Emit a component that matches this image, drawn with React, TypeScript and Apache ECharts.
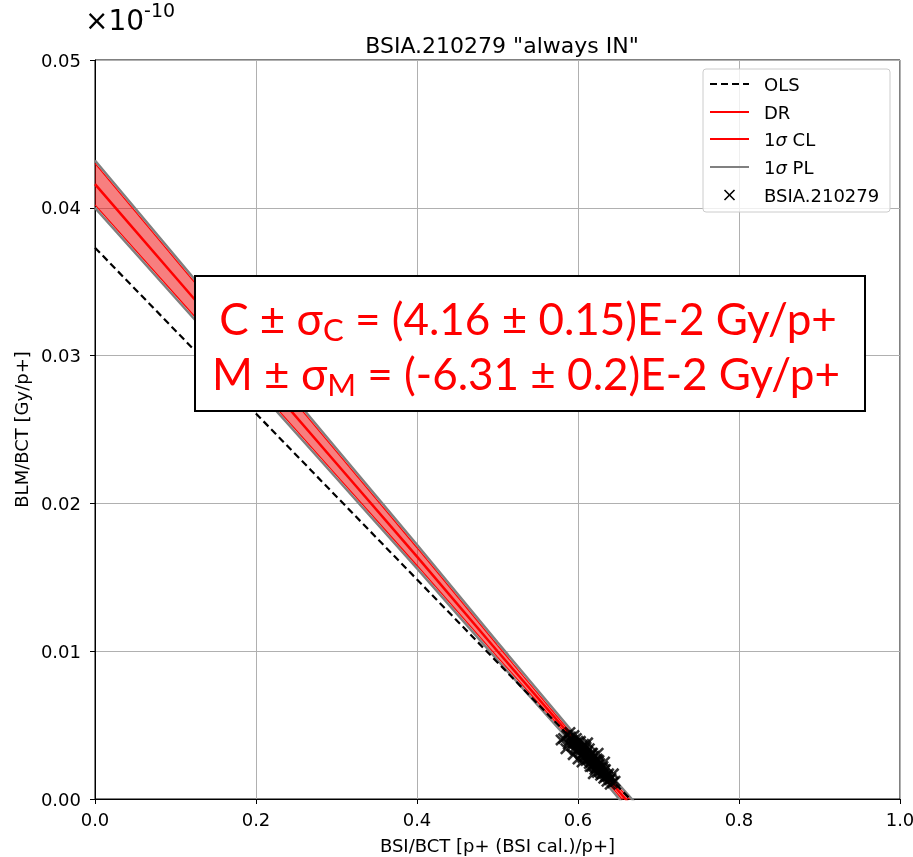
import React, { useEffect, useRef } from "react";
import * as echarts from "echarts";

const titleText = 'BSIA.210279 "always IN"';

// fit lines / bands sampled along x
const bandX = [0, 0.1, 0.2, 0.3, 0.4, 0.5, 0.6, 0.67];
const drY = [0.0416, 0.0353, 0.029, 0.0227, 0.0164, 0.01, 0.0037, -0.0007];
const clUpper = [0.043, 0.0365, 0.03, 0.0235, 0.017, 0.0104, 0.0039, -0.0004];
const clLower = [0.0402, 0.0341, 0.028, 0.0219, 0.0158, 0.0096, 0.0035, -0.001];
const plUpper = [0.0432, 0.0367, 0.0302, 0.0237, 0.0172, 0.0106, 0.0041, -0.0002];
const plLower = [0.04, 0.0339, 0.0278, 0.0217, 0.0156, 0.0094, 0.0033, -0.0012];
const olsX = [0, 0.67];
const olsY = [0.0373, -0.0003];

const measX = [
  0.582, 0.586, 0.589, 0.591, 0.593, 0.595, 0.588, 0.592, 0.596, 0.598, 0.6, 0.597, 0.601, 0.603, 0.599,
  0.602, 0.605, 0.607, 0.604, 0.606, 0.608, 0.61, 0.609, 0.611, 0.612, 0.614, 0.61, 0.613, 0.615, 0.617,
  0.614, 0.616, 0.618, 0.62, 0.617, 0.62, 0.622, 0.624, 0.621, 0.623, 0.625, 0.627, 0.624, 0.627, 0.629,
  0.631, 0.628, 0.63, 0.632, 0.634, 0.632, 0.634, 0.636, 0.638, 0.636, 0.639, 0.641, 0.64, 0.643,
  0.585, 0.594, 0.6, 0.612, 0.625, 0.633, 0.644, 0.646, 0.605, 0.619, 0.59, 0.579,
  0.603, 0.608, 0.612, 0.616, 0.619, 0.622, 0.626, 0.63, 0.633, 0.637, 0.594, 0.598,
  0.597, 0.606, 0.615, 0.621, 0.628, 0.609, 0.618, 0.626,
];
const measY = [
  0.0041, 0.0043, 0.0039, 0.0042, 0.004, 0.0043, 0.0037, 0.0036, 0.0038, 0.0041, 0.0039, 0.0035, 0.0036,
  0.0039, 0.0033, 0.0032, 0.0035, 0.0037, 0.003, 0.0031, 0.0033, 0.0035, 0.0029, 0.003, 0.0032, 0.0034,
  0.0026, 0.0027, 0.0029, 0.0031, 0.0024, 0.0025, 0.0027, 0.0029, 0.0022, 0.0023, 0.0025, 0.0027, 0.002,
  0.0021, 0.0023, 0.0024, 0.0018, 0.0019, 0.002, 0.0022, 0.0016, 0.0017, 0.0018, 0.002, 0.0014, 0.0015,
  0.0016, 0.0017, 0.0012, 0.0013, 0.0014, 0.001, 0.0011,
  0.0034, 0.003, 0.0027, 0.0038, 0.0031, 0.0025, 0.0017, 0.0012, 0.0025, 0.0017, 0.0045, 0.004,
  0.0034, 0.0031, 0.0028, 0.0027, 0.0024, 0.0022, 0.0021, 0.0019, 0.0017, 0.0015, 0.0038, 0.0037,
  0.0033, 0.0028, 0.0022, 0.0026, 0.0021, 0.0036, 0.0031, 0.0026,
];

const legendLabels = ["OLS", "DR", "1{i|σ} CL", "1{i|σ} PL", "BSIA.210279"];

const crossPath = "path://M0,1.5L1.5,0L5,3.5L8.5,0L10,1.5L6.5,5L10,8.5L8.5,10L5,6.5L1.5,10L0,8.5L3.5,5Z";

export default function App() {
  const ref = useRef<HTMLDivElement>(null);
  useEffect(() => {
    if (!ref.current) return;
    const chart = echarts.init(ref.current, null, { renderer: "svg" });
    const zip = (xs: number[], ys: number[]) => xs.map((x, i) => [x, ys[i]]);
    const legendY = [84, 112, 139, 167, 195];
    const lx0 = 710, lx1 = 749, tx = 764;
    const legendItems: any[] = [
      { type: "rect", shape: { x: 703, y: 69, width: 187, height: 143, r: 3 }, style: { fill: "rgba(255,255,255,0.8)", stroke: "#cccccc", lineWidth: 1 }, z: 100 },
      { type: "line", shape: { x1: lx0, y1: legendY[0], x2: lx1, y2: legendY[0] }, style: { stroke: "#000", lineWidth: 2.2, lineDash: [7, 4] }, z: 101 },
      { type: "line", shape: { x1: lx0, y1: legendY[1], x2: lx1, y2: legendY[1] }, style: { stroke: "#ff0000", lineWidth: 2.2 }, z: 101 },
      { type: "line", shape: { x1: lx0, y1: legendY[2], x2: lx1, y2: legendY[2] }, style: { stroke: "#ff0000", lineWidth: 2.2 }, z: 101 },
      { type: "line", shape: { x1: lx0, y1: legendY[3], x2: lx1, y2: legendY[3] }, style: { stroke: "#808080", lineWidth: 2.2 }, z: 101 },
      { type: "line", shape: { x1: 724.5, y1: legendY[4] - 5, x2: 734.5, y2: legendY[4] + 5 }, style: { stroke: "#000", lineWidth: 1.6 }, z: 101 },
      { type: "line", shape: { x1: 734.5, y1: legendY[4] - 5, x2: 724.5, y2: legendY[4] + 5 }, style: { stroke: "#000", lineWidth: 1.6 }, z: 101 },
    ];
    legendLabels.forEach((t, i) => {
      legendItems.push({
        type: "text",
        x: tx,
        y: legendY[i],
        z: 101,
        style: {
          text: t,
          fill: "#000",
          fontSize: 18,
          fontFamily: "DejaVu Sans",
          verticalAlign: "middle",
          rich: { i: { fontStyle: "italic", fontSize: 18, fontFamily: "DejaVu Sans", fill: "#000" } },
        },
      });
    });

    const mainRich = {
      m: { fontSize: 44, fontFamily: "Lato", fill: "#ff0000", lineHeight: 52 },
      s: { fontSize: 31, fontFamily: "Lato", fill: "#ff0000", lineHeight: 30, verticalAlign: "bottom" },
    };

    const bandRender = (params: any, api: any) => {
      if (params.dataIndex !== 0) return null;
      const pts: number[][] = [];
      for (let i = 0; i < bandX.length; i++) pts.push(api.coord([bandX[i], clUpper[i]]));
      for (let i = bandX.length - 1; i >= 0; i--) pts.push(api.coord([bandX[i], clLower[i]]));
      return { type: "polygon", shape: { points: pts }, style: { fill: "rgba(240,0,0,0.5)" } };
    };

    const tickFont = { fontFamily: "DejaVu Sans", fontSize: 18, color: "#000" };

    chart.setOption({
      animation: false,
      title: {
        text: titleText,
        left: 497,
        textAlign: "center",
        top: 29,
        textStyle: { fontFamily: "DejaVu Sans", fontSize: 22, fontWeight: "normal", color: "#000" },
      },
      grid: {
        left: 95,
        top: 60,
        width: 805,
        height: 739,
        show: true,
        borderColor: "#000",
        borderWidth: 1,
        backgroundColor: "transparent",
        containLabel: false,
        outerBoundsMode: "none",
      },
      xAxis: {
        type: "value",
        min: 0,
        max: 1,
        interval: 0.2,
        name: "BSI/BCT [p+ (BSI cal.)/p+]",
        nameLocation: "middle",
        nameGap: 37,
        nameTextStyle: { ...tickFont },
        axisLine: { show: true, onZero: false, lineStyle: { color: "#000", width: 1 } },
        axisTick: { show: true, length: 5, lineStyle: { color: "#000" } },
        axisLabel: { formatter: (v: number) => v.toFixed(1), ...tickFont, margin: 11 },
        splitLine: { show: true, lineStyle: { color: "#b0b0b0", width: 1 } },
      },
      yAxis: {
        type: "value",
        min: 0,
        max: 0.05,
        interval: 0.01,
        name: "BLM/BCT [Gy/p+]",
        nameLocation: "middle",
        nameGap: 65,
        nameTextStyle: { ...tickFont },
        axisLine: { show: true, onZero: false, lineStyle: { color: "#000", width: 1 } },
        axisTick: { show: true, length: 5, lineStyle: { color: "#000" } },
        axisLabel: { formatter: (v: number) => v.toFixed(2), ...tickFont, margin: 14 },
        splitLine: { show: true, lineStyle: { color: "#b0b0b0", width: 1 } },
      },
      series: [
        {
          name: "CL band",
          type: "custom",
          renderItem: bandRender,
          data: zip(bandX, clUpper),
          clip: true,
          z: 2,
        },
        { name: "PL upper", type: "line", data: zip(bandX, plUpper), symbol: "none", lineStyle: { color: "#808080", width: 2.5 }, z: 3 },
        { name: "PL lower", type: "line", data: zip(bandX, plLower), symbol: "none", lineStyle: { color: "#808080", width: 2.5 }, z: 3 },
        { name: "CL upper", type: "line", data: zip(bandX, clUpper), symbol: "none", lineStyle: { color: "#ff0000", width: 1.2 }, z: 4 },
        { name: "CL lower", type: "line", data: zip(bandX, clLower), symbol: "none", lineStyle: { color: "#ff0000", width: 1.2 }, z: 4 },
        { name: "DR", type: "line", data: zip(bandX, drY), symbol: "none", lineStyle: { color: "#ff0000", width: 2.5 }, z: 5 },
        { name: "OLS", type: "line", data: zip(olsX, olsY), symbol: "none", lineStyle: { color: "#000", width: 2.2, type: [7, 4] }, z: 5 },
        {
          name: "BSIA.210279",
          type: "scatter",
          data: zip(measX, measY),
          symbol: crossPath,
          symbolSize: 12,
          itemStyle: { color: "#000" },
          z: 6,
        },
      ],
      graphic: [
        {
          type: "text",
          x: 85,
          y: 40,
          z: 100,
          style: {
            text: "×10{sup|-10}",
            fill: "#000",
            fontSize: 28,
            fontFamily: "DejaVu Sans",
            verticalAlign: "bottom",
            rich: {
              sup: { fontSize: 19, fontFamily: "DejaVu Sans", fill: "#000", verticalAlign: "top", lineHeight: 40 },
            },
          },
        },
        ...legendItems,
        {
          type: "rect",
          shape: { x: 195, y: 276, width: 670, height: 135 },
          style: { fill: "#fff", stroke: "#000", lineWidth: 2 },
          z: 100,
        },
        {
          type: "text",
          x: 528,
          y: 318,
          z: 101,
          style: {
            text: "{m|C ± σ}{s|C}{m| = (4.16 ± 0.15)E-2 Gy/p+}",
            align: "center",
            verticalAlign: "middle",
            rich: mainRich,
          },
        },
        {
          type: "text",
          x: 526,
          y: 373,
          z: 101,
          style: {
            text: "{m|M ± σ}{s|M}{m| = (-6.31 ± 0.2)E-2 Gy/p+}",
            align: "center",
            verticalAlign: "middle",
            rich: mainRich,
          },
        },
      ],
    });
    return () => chart.dispose();
  }, []);
  return <div ref={ref} style={{ position: "fixed", left: 0, top: 0, width: 913, height: 857 }} />;
}
